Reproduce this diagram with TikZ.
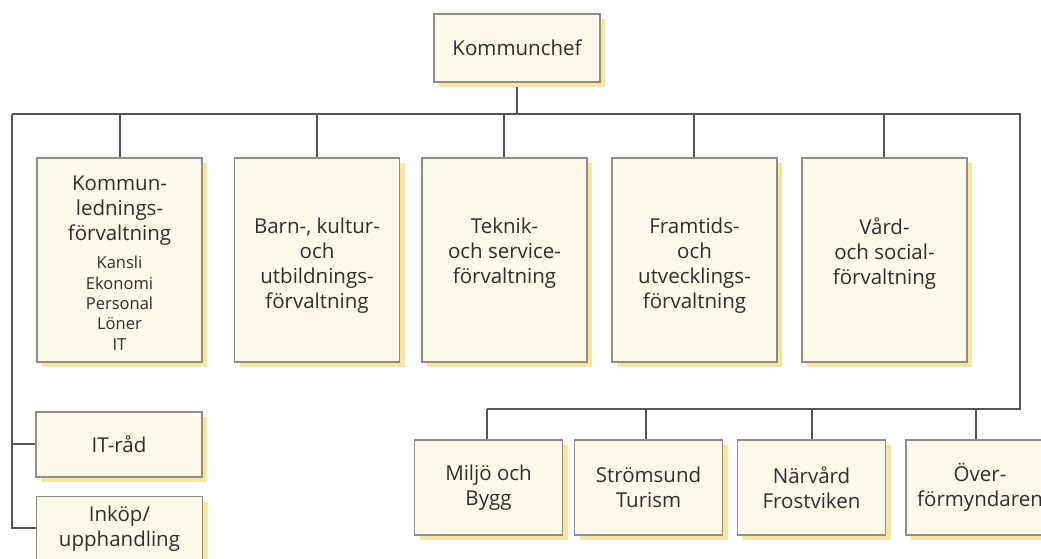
\documentclass[tikz,border=0pt]{standalone}
\usepackage{fontspec}
\setmainfont{Open Sans}
\usetikzlibrary{shadows}
\definecolor{boxfill}{HTML}{FDF9EA}
\definecolor{boxline}{HTML}{8E8E8E}
\definecolor{shadowyellow}{HTML}{F8E79A}
\definecolor{orgline}{HTML}{555555}
\definecolor{orgtext}{HTML}{2E2E2E}
\newcommand{\unittext}[2]{\parbox[c][204pt][t]{160pt}{\centering\fontsize{20.5}{25}\selectfont\vspace*{#1}#2}}
\tikzset{
	orgbox/.style={draw=boxline, line width=1.2pt, fill=boxfill, text=orgtext, align=center,
		inner sep=0pt, font=\fontsize{20.5}{25}\selectfont,
		drop shadow={fill=shadowyellow, opacity=1, shadow xshift=5pt, shadow yshift=-5pt}},
	unit/.style={orgbox, minimum width=165pt, minimum height=204pt},
	staff/.style={orgbox, minimum width=166pt, minimum height=65pt},
	office/.style={orgbox, minimum width=148pt, minimum height=95pt},
	link/.style={draw=orgline, line width=2pt}
}
\begin{document}
\begin{tikzpicture}[x=1pt, y=-1pt]
				\useasboundingbox (0,0) rectangle (1041,558);
				\clip (0,0) rectangle (1041,558);
				\coordinate (busL) at (12,114);
				\coordinate (busR) at (1020,114);
				\coordinate (lowbus) at (1020,409);
				% lines first, boxes on top
				\draw[link] (517,82) -- (517,114);
				\draw[link] (busL) -- (busR) -- (lowbus) -- (487,409);
				\draw[link] (busL) |- (12,528) -- (38,528);
				\draw[link] (12,444) -- (38,444);
				\foreach \x in {120,317,504,694,884} \draw[link] (\x,114) -- (\x,160);
				\foreach \x in {487,646,812,976} \draw[link] (\x,409) -- (\x,442);
				\node[orgbox, minimum width=166pt, minimum height=68pt] (chef) at (517,48) {Kommunchef};
				\node[unit] (kld) at (119.5,260) {\unittext{18pt}{Kommun-\\lednings-\\förvaltning\par\vspace{8pt}\fontsize{16.5}{20.3}\selectfont Kansli\\Ekonomi\\Personal\\Löner\\IT}};
				\node[unit] (bku) at (317,260) {\unittext{60pt}{Barn-, kultur-\\och\\utbildnings-\\förvaltning}};
				\node[unit] (tsf) at (504.5,260) {\unittext{60pt}{Teknik-\\och service-\\förvaltning}};
				\node[unit] (fuf) at (694.5,260) {\unittext{60pt}{Framtids-\\och\\utvecklings-\\förvaltning}};
				\node[unit] (vsf) at (884.5,260) {\unittext{60pt}{Vård-\\och social-\\förvaltning}};
				\node[staff] (itrad) at (119,444.5) {IT-råd};
				\node[staff] (inkop) at (119.5,529) {Inköp/\\upphandling};
				\node[office] (miljo) at (488.5,487.5) {Miljö och\\Bygg};
				\node[office] (strom) at (648.5,487.5) {Strömsund\\Turism};
				\node[office] (narv) at (811.5,487.5) {Närvård\\Frostviken};
				\node[office] (over) at (980,487.5) {Över-\\förmyndaren};
\end{tikzpicture}
\end{document}
